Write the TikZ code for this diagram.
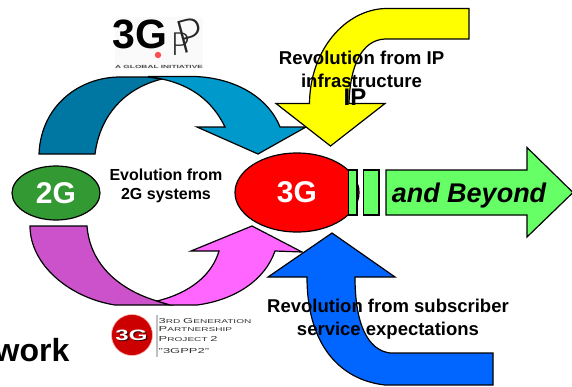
\documentclass[tikz,border=0pt]{standalone}
\usepackage{fontspec}
\usepackage{graphicx}
\setmainfont{Liberation Sans}
\newfontfamily\thinf{Lato Light}
\usetikzlibrary{shapes.geometric}
\definecolor{tealdark}{RGB}{0,119,162}
\definecolor{teallight}{RGB}{0,153,204}
\definecolor{plumdark}{RGB}{204,82,204}
\definecolor{pinklight}{RGB}{255,102,255}
\definecolor{yel}{RGB}{255,255,0}
\definecolor{royal}{RGB}{0,102,255}
\definecolor{mint}{RGB}{102,255,102}
\definecolor{grass}{RGB}{51,153,51}
\definecolor{logored}{RGB}{204,0,0}
\tikzset{
  shapeline/.style={draw=black,line width=1.2pt,line join=miter,miter limit=10},
  lbl/.style={inner sep=0pt,align=center,text=black},
  bub/.style={ellipse,shapeline,inner sep=0pt,text=white,font=\bfseries\fontsize{30}{30}\selectfont},
  smallcap/.style={inner sep=0pt,anchor=west,text=black!80},
}
\newcommand{\cpt}[2]{\scalebox{1.8}[1]{\fontsize{7.2}{8}\selectfont #1\fontsize{5.6}{8}\selectfont #2}}
\begin{document}
\begin{tikzpicture}[x=1pt,y=-1pt]
\useasboundingbox (0,0) rectangle (572,386);
\fill[white] (0,0) rectangle (572,386);
% 3GPP logo
\fill[black!2] (115,17) rectangle (203,69);
\node[inner sep=0pt,font=\bfseries\fontsize{41}{41}\selectfont] (gpp3g) at (140,34) {3G};
\node[inner sep=0pt,font=\thinf\fontsize{32}{32}\selectfont,text=black!85] (gppp) at (180,44) {P};
\node[inner sep=0pt,font=\thinf\fontsize{46}{46}\selectfont,text=black!85,rotate=15] (gpppb) at (190,35) {P};
\fill[red!70!white] (158,55) circle (3.2);
\node[inner sep=0pt,font=\bfseries\fontsize{4.5}{5}\selectfont,text=black!70] (gppt) at (159,66.5) {\scalebox{1.85}[1]{A GLOBAL INITIATIVE}};
% upper blue arrow
\filldraw[shapeline,fill=tealdark] (39,154) .. controls (41,105) and (80,77) .. (120,77) -- (148,77) -- (162,79)
  .. controls (125,88) and (100,115) .. (95,154) -- cycle;
\filldraw[shapeline,fill=teallight] (148,76.5) -- (195,76.5) .. controls (235,78) and (268,97) .. (280,127) -- (306,127) -- (258,154) -- (197,127) -- (225,127)
  .. controls (212,100) and (190,85) .. (162,79) -- cycle;
% lower magenta arrow
\filldraw[shapeline,fill=plumdark] (30,226) -- (87,226) .. controls (90,265) and (120,290) .. (157,301) -- (170,305) -- (115,305)
  .. controls (70,298) and (30,265) .. (30,226) -- cycle;
\filldraw[shapeline,fill=pinklight] (157,301) .. controls (190,293) and (212,275) .. (219,251) -- (191,251) -- (252,226) -- (302,252) -- (275,251)
  .. controls (265,280) and (235,300) .. (197,305) -- (170,305) -- cycle;
% green arrow and ellipses
\node[bub,fill=grass,minimum width=88pt,minimum height=54pt] (twoG) at (56,193) {2G};
\node[bub,fill=red,minimum width=124pt,minimum height=79pt] (threeG) at (297,192.5) {3G};
\filldraw[shapeline,fill=mint] (348.5,170) rectangle (357,215);
\filldraw[shapeline,fill=mint] (363.5,170) rectangle (379,215);
\filldraw[shapeline,fill=mint] (386,170) -- (527,170) -- (527,147.5) -- (573,192.5) -- (527,237) -- (527,215) -- (386,215) -- cycle;
% yellow arrow
\filldraw[shapeline,fill=yel] (469,8.5) -- (385,8.5) .. controls (345,10) and (310,50) .. (309.5,103.5) -- (276,103.5) -- (330.5,146) -- (385,103.5) -- (349,103.5)
  .. controls (350,65) and (362,40) .. (385,39) -- (469,39) -- cycle;
% blue arrow
\filldraw[shapeline,fill=royal] (493,353) -- (390,353) .. controls (368,350) and (355,325) .. (355,277) -- (395,277) -- (332,233) -- (268,277) -- (307,277)
  .. controls (307,345) and (340,380) .. (385,385) -- (493,385) -- cycle;
% 3GPP2 logo
\fill[logored] (132,335) circle (20.5);
\draw[red!30!white,line width=.6pt] (132,335) circle (20.5);
\node[inner sep=0pt,font=\bfseries\fontsize{15}{15}\selectfont,text=black!75!red] (tgs) at (132.8,336.6) {\scalebox{1.6}[1]{3G}};
\node[inner sep=0pt,font=\bfseries\fontsize{15}{15}\selectfont,text=white] (tg) at (131.5,335.2) {\scalebox{1.6}[1]{3G}};
\draw[black!25,line width=1.5pt] (157,315) -- (157,357);
\node[smallcap] (l1) at (158.5,321) {\cpt{3}{RD} \cpt{G}{ENERATION}};
\node[smallcap] (l2) at (158.5,329.5) {\cpt{P}{ARTNERSHIP}};
\node[smallcap] (l3) at (158.5,339) {\cpt{P}{ROJECT} \cpt{2}{}};
\node[smallcap] (l4) at (158.5,351) {\cpt{"3GPP2"}{}};
% labels
\node[lbl,font=\bfseries\fontsize{16}{18.5}\selectfont] (evo) at (166,186) {Evolution from\\2G systems};
\node[lbl,font=\bfseries\fontsize{18.6}{22.7}\selectfont] (ipr) at (361.5,69) {Revolution from IP\\infrastructure};
\node[lbl,font=\bfseries\fontsize{24}{24}\selectfont] (ip) at (355,97) {IP};
\node[lbl,font=\bfseries\fontsize{18.5}{23}\selectfont] (sub) at (388,319) {Revolution from subscriber\\service expectations};
\node[inner sep=0pt,font=\bfseries\itshape\fontsize{27}{27}\selectfont] (beyond) at (469,195.5) {and Beyond};
\node[inner sep=0pt,anchor=base east,font=\bfseries\fontsize{32}{32}\selectfont] (wk) at (69.5,361.5) {work};
\end{tikzpicture}
\end{document}
